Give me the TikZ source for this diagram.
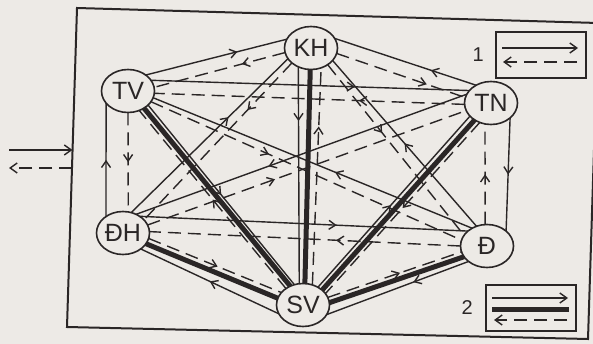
\documentclass[tikz,border=0pt]{standalone}
\usepackage{fontspec}
\setmainfont{Liberation Sans}
\usepackage{tikz}
\usetikzlibrary{shapes.geometric, arrows.meta, decorations.markings}
\definecolor{paper}{RGB}{237,234,230}
\definecolor{ink}{RGB}{42,38,38}

\begin{document}
\begin{tikzpicture}[
    x=1pt, y=-1pt,
    comp/.style  ={ellipse, draw=ink, line width=1.6pt,
                   minimum width=53pt, minimum height=43pt,
                   inner sep=0pt, outer sep=0pt,
                   font=\fontsize{25}{25}\selectfont, text=ink},
    legbox/.style={rectangle, draw=ink, line width=1.6pt,
                   minimum width=90pt, minimum height=46pt, inner sep=0pt},
    num/.style   ={font=\fontsize{20}{20}\selectfont, text=ink},
    flow/.style  ={draw=ink, line width=1.4pt, postaction={decorate},
                   decoration={markings, mark=at position #1 with
                   {\arrow{Straight Barb[length=6.5pt, width=9pt]}}}},
    flow/.default=0.5,
    flowd/.style ={flow=#1, dash pattern=on 13pt off 7pt},
    flowd/.default=0.5,
    bond/.style  ={draw=ink, line width=5pt},
    lead/.style  ={draw=ink, line width=1.4pt, -{Straight Barb[length=7pt, width=10pt]}},
    leadd/.style ={lead, dash pattern=on 13pt off 7pt}
]

\fill[paper] (0,0) rectangle (593,344);
\useasboundingbox (0,0) rectangle (593,344);

% ============================================================
% KHUNG VA MUI TEN VAO / RA
% ============================================================

\coordinate (f1) at (77,8);
\coordinate (f2) at (598,23);
\coordinate (f3) at (588,339);
\coordinate (f4) at (67,327);
\draw[ink, line width=2pt] (f1) -- (f2) -- (f3) -- (f4) -- cycle;

\coordinate (inA)  at (9,150);
\coordinate (inB)  at (72.5,150);
\coordinate (outA) at (72,168);
\coordinate (outB) at (9,168);
\draw[lead]  (inA)  -- (inB);
\draw[leadd] (outA) -- (outB);

% ============================================================
% CAC THANH PHAN
% ============================================================

\node[comp] (kh) at (311,48)  {KH};
\node[comp] (tv) at (128,91)  {TV};
\node[comp] (tn) at (491,103) {TN};
\node[comp] (dh) at (123,233) {ĐH};
\node[comp] (d)  at (487,246) {Đ};
\node[comp] (sv) at (303,305) {SV};

% ============================================================
% CHU GIAI
% ============================================================

\node[legbox] (leg1) at (541,55) {};
\node[num, anchor=east] (n1) at ([xshift=-8pt]leg1.west) {1};
\coordinate (l1a) at (502,48);  \coordinate (l1b) at (578,48);
\coordinate (l1c) at (577,62);  \coordinate (l1d) at (503,62);
\draw[lead]  (l1a) -- (l1b);
\draw[leadd] (l1c) -- (l1d);

\node[legbox] (leg2) at (531,308) {};
\node[num, anchor=east] (n2) at ([xshift=-9pt]leg2.west) {2};
\coordinate (l2a) at (492,298); \coordinate (l2b) at (568,298);
\coordinate (l2c) at (492,309); \coordinate (l2d) at (569,309);
\coordinate (l2e) at (567,320); \coordinate (l2f) at (494,320);
\draw[lead]  (l2a) -- (l2b);
\draw[bond]  (l2c) -- (l2d);
\draw[leadd] (l2e) -- (l2f);

% ============================================================
% QUAN HE
% ============================================================

% TV - KH
\draw[flow=0.65]  (tv.42)  -- (kh.160);
\draw[flowd=0.33] (kh.190) -- (tv.8);
% TV - TN
\draw[flow=0.64]  (tv.25)  -- (tn.150);
\draw[flowd=0.34] (tn.183) -- (tv.-5);
% TV - DH
\draw[flow]       (dh.136) -- (tv.209);
\draw[flowd]      (tv.270) -- (dh.76);
% TV - D
\draw[flow=0.43]  (d.130)  -- (tv.-15);
\draw[flowd=0.38] (tv.-25) -- (d.167);

% KH - TN
\draw[flow=0.32]  (tn.130) -- (kh.22);
\draw[flowd=0.7]  (kh.-12) -- (tn.168);
% KH - DH
\draw[flow=0.62]  (dh.68)  -- (kh.205);
\draw[flowd=0.3]  (kh.218) -- (dh.32);
% KH - D
\draw[flow=0.5]   (d.118)  -- (kh.-30);
\draw[flowd=0.4]  (kh.-45) -- (d.155);

% TN - DH
\draw[flow=0.6]   (tn.160) -- (dh.55);
\draw[flowd=0.4]  (dh.18)  -- (tn.197);
% TN - D
\draw[flowd]      (d.95)   -- (tn.254);
\draw[flow]       (tn.-38) -- (d.38);

% DH - D
\draw[flow=0.6]   (dh.45)  -- (d.142);
\draw[flowd=0.4]  (d.180)  -- (dh.3);

% SV voi cac thanh phan khac
\draw[bond]       (tv.-47) -- (sv.124);
\draw[flow]       (tv.-35) -- (sv.113);
\draw[flowd]      (sv.136) -- (tv.-60);

\draw[bond]       (kh.268) -- (sv.85);
\draw[flow=0.25]  (kh.236) -- (sv.100);
\draw[flowd=0.73] (sv.65)  -- (kh.297);

\draw[bond]       (tn.226) -- (sv.38);
\draw[flow=0.48]  (sv.50)  -- (tn.212);
\draw[flowd]      (tn.240) -- (sv.27);

\draw[bond]       (dh.-25) -- (sv.165);
\draw[flowd=0.52] (dh.-12) -- (sv.150);
\draw[flow]       (sv.200) -- (dh.-42);

\draw[bond]       (d.205)  -- (sv.5);
\draw[flowd=0.54] (sv.17)  -- (d.193);
\draw[flow=0.39]  (d.220)  -- (sv.-22);

\end{tikzpicture}
\end{document}
